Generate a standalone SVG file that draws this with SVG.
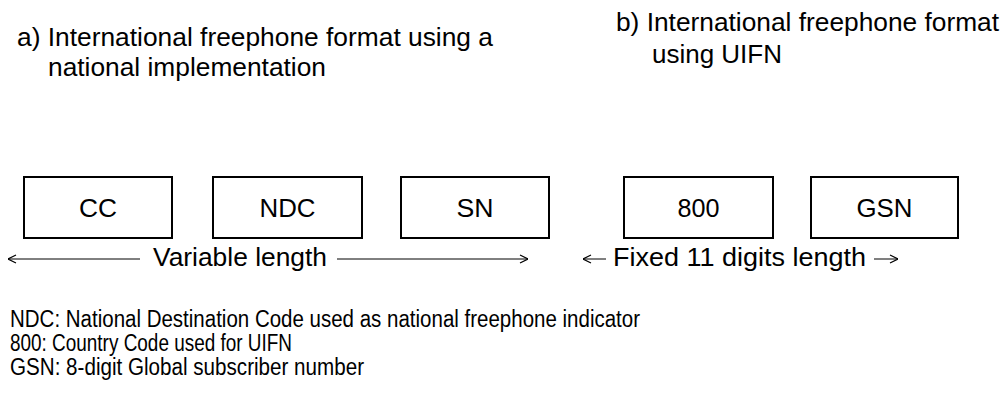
<svg xmlns="http://www.w3.org/2000/svg" width="1007" height="394" viewBox="0 0 1007 394">
<style>
text{font-family:"Liberation Sans",Arial,sans-serif;fill:#000}
.h{font-size:25px}
.b{font-size:25px;text-anchor:middle}
.n{font-size:23px}
.box{fill:#fff;stroke:#000;stroke-width:2}
.ln{stroke:#000;stroke-width:1;fill:none}
</style>
<defs>
<marker id="ah" viewBox="0 0 10 10" refX="10" refY="5" markerWidth="10" markerHeight="10" markerUnits="userSpaceOnUse" orient="auto-start-reverse">
<path d="M2,1 L10,5 L2,9" fill="none" stroke="#000" stroke-width="1.2"/>
</marker>
</defs>
<rect width="1007" height="394" fill="#fff"/>
<g id="title-a">
<text class="h" x="17" y="46" textLength="476" lengthAdjust="spacingAndGlyphs">a) International freephone format using a</text>
<text class="h" x="48" y="76" textLength="278" lengthAdjust="spacingAndGlyphs">national implementation</text>
</g>
<g id="title-b">
<text class="h" x="616" y="31" textLength="383" lengthAdjust="spacingAndGlyphs">b) International freephone format</text>
<text class="h" x="652" y="63" textLength="130" lengthAdjust="spacingAndGlyphs">using UIFN</text>
</g>
<g id="node-cc"><rect class="box" x="24" y="177" width="148" height="61"/><text class="b" x="98" y="217" textLength="38" lengthAdjust="spacingAndGlyphs">CC</text></g>
<g id="node-ndc"><rect class="box" x="213" y="177" width="149" height="61"/><text class="b" x="287.5" y="217" textLength="56" lengthAdjust="spacingAndGlyphs">NDC</text></g>
<g id="node-sn"><rect class="box" x="401" y="177" width="148" height="61"/><text class="b" x="475" y="217" textLength="37" lengthAdjust="spacingAndGlyphs">SN</text></g>
<g id="node-800"><rect class="box" x="624" y="177" width="149" height="61"/><text class="b" x="698.5" y="217" textLength="42" lengthAdjust="spacingAndGlyphs">800</text></g>
<g id="node-gsn"><rect class="box" x="811" y="177" width="147" height="61"/><text class="b" x="884.5" y="217" textLength="56" lengthAdjust="spacingAndGlyphs">GSN</text></g>
<g id="connectors">
<line class="ln" x1="140" y1="259" x2="8" y2="259" marker-end="url(#ah)"/>
<line class="ln" x1="337" y1="259" x2="528" y2="259" marker-end="url(#ah)"/>
<line class="ln" x1="606" y1="259" x2="583" y2="259" marker-end="url(#ah)"/>
<line class="ln" x1="874" y1="259" x2="898" y2="259" marker-end="url(#ah)"/>
</g>
<text class="h" x="153" y="266" textLength="174" lengthAdjust="spacingAndGlyphs">Variable length</text>
<text class="h" x="613" y="266" textLength="253" lengthAdjust="spacingAndGlyphs">Fixed 11 digits length</text>
<g id="notes">
<text class="n" x="10" y="327" textLength="630" lengthAdjust="spacingAndGlyphs">NDC: National Destination Code used as national freephone indicator</text>
<text class="n" x="10" y="351" textLength="282" lengthAdjust="spacingAndGlyphs">800: Country Code used for UIFN</text>
<text class="n" x="10" y="375" textLength="354" lengthAdjust="spacingAndGlyphs">GSN: 8-digit Global subscriber number</text>
</g>
</svg>
